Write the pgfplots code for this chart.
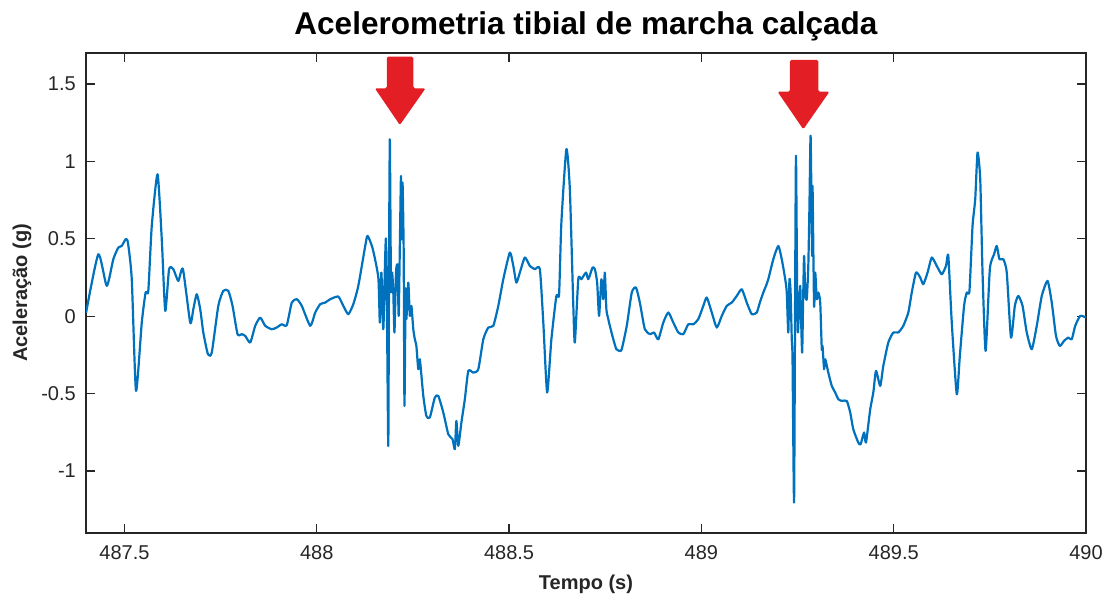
\documentclass[border=0pt]{standalone}
\usepackage{fontspec}
\setmainfont{Liberation Sans}
\usepackage{pgfplots}
\pgfplotsset{compat=1.18}
\usepackage{pgfplotstable}

\definecolor{signalblue}{RGB}{0,114,189}
\definecolor{axisgray}{RGB}{38,38,38}
\definecolor{markred}{RGB}{228,30,37}

% tibial acceleration (g) against time (s)
\pgfplotstableread{
t a
487.400 0.020
487.432 0.400
487.454 0.196
487.471 0.368
487.484 0.443
487.493 0.454
487.503 0.497
487.509 0.476
487.519 0.239
487.530 -0.482
487.545 -0.041
487.555 0.153
487.562 0.164
487.571 0.583
487.586 0.917
487.597 0.497
487.606 0.034
487.616 0.304
487.627 0.304
487.640 0.228
487.652 0.304
487.671 -0.041
487.679 0.045
487.688 0.142
487.697 0.045
487.705 -0.105
487.717 -0.245
487.727 -0.235
487.744 0.067
487.757 0.164
487.770 0.164
487.781 0.067
487.794 -0.116
487.805 -0.116
487.814 -0.127
487.827 -0.170
487.840 -0.062
487.853 -0.009
487.866 -0.062
487.883 -0.084
487.896 -0.073
487.909 -0.052
487.922 -0.058
487.935 0.088
487.948 0.110
487.961 0.067
487.983 -0.062
487.996 0.024
488.009 0.078
488.022 0.088
488.035 0.110
488.056 0.127
488.069 0.067
488.082 0.013
488.095 0.078
488.108 0.196
488.126 0.454
488.132 0.519
488.145 0.440
488.160 0.250
488.164 -0.041
488.168 0.282
488.173 -0.084
488.177 0.304
488.180 0.497
488.183 -0.105
488.186 -0.837
488.188 0.390
488.190 1.143
488.193 0.174
488.196 0.282
488.199 0.153
488.202 -0.105
488.206 0.282
488.210 0.325
488.213 0.002
488.216 0.454
488.219 0.906
488.221 0.497
488.223 0.863
488.226 0.411
488.228 -0.579
488.231 0.174
488.233 -0.019
488.238 0.217
488.242 0.002
488.246 0.067
488.251 -0.084
488.255 -0.149
488.259 -0.192
488.264 -0.342
488.268 -0.278
488.277 -0.515
488.285 -0.644
488.294 -0.654
488.307 -0.525
488.316 -0.515
488.329 -0.622
488.342 -0.762
488.353 -0.794
488.359 -0.859
488.363 -0.676
488.368 -0.837
488.376 -0.687
488.385 -0.536
488.394 -0.353
488.407 -0.364
488.420 -0.342
488.433 -0.149
488.446 -0.073
488.459 -0.062
488.472 0.067
488.485 0.239
488.502 0.411
488.511 0.325
488.519 0.217
488.528 0.282
488.541 0.379
488.554 0.325
488.567 0.304
488.580 0.304
488.589 -0.041
488.599 -0.493
488.610 -0.149
488.623 0.131
488.630 0.142
488.636 0.605
488.649 1.079
488.658 0.820
488.667 0.067
488.671 -0.170
488.680 0.239
488.688 0.239
488.700 0.282
488.706 0.239
488.717 0.314
488.723 0.304
488.729 0.217
488.734 0.002
488.740 0.239
488.745 0.110
488.749 0.282
488.753 0.045
488.758 -0.019
488.762 -0.062
488.771 -0.149
488.779 -0.213
488.788 -0.224
488.793 -0.213
488.806 -0.062
488.819 0.153
488.830 0.185
488.840 0.088
488.853 -0.084
488.867 -0.116
488.877 -0.105
488.888 -0.149
488.901 -0.041
488.914 0.024
488.927 -0.041
488.940 -0.105
488.953 -0.116
488.966 -0.052
488.979 -0.052
488.992 -0.019
489.005 0.067
489.014 0.121
489.027 0.024
489.040 -0.073
489.053 0.002
489.066 0.067
489.079 0.088
489.092 0.131
489.105 0.174
489.118 0.088
489.131 0.013
489.144 0.024
489.152 0.088
489.161 0.153
489.168 0.196
489.174 0.239
489.187 0.368
489.200 0.454
489.209 0.368
489.218 0.239
489.222 0.153
489.226 -0.105
489.229 0.239
489.232 0.153
489.235 -0.149
489.237 -0.278
489.241 -1.203
489.244 0.282
489.246 1.036
489.249 0.153
489.251 -0.105
489.254 0.067
489.257 0.196
489.259 0.002
489.262 -0.235
489.264 0.024
489.267 0.390
489.270 0.153
489.274 0.110
489.278 0.325
489.281 0.713
489.284 1.165
489.288 0.390
489.289 0.842
489.293 0.067
489.296 0.282
489.300 0.110
489.304 0.153
489.309 0.088
489.313 -0.213
489.315 -0.192
489.319 -0.342
489.322 -0.278
489.330 -0.364
489.339 -0.450
489.348 -0.493
489.356 -0.536
489.365 -0.547
489.378 -0.547
489.387 -0.622
489.395 -0.730
489.408 -0.816
489.414 -0.827
489.423 -0.751
489.428 -0.816
489.439 -0.601
489.447 -0.493
489.454 -0.353
489.465 -0.450
489.473 -0.321
489.486 -0.170
489.499 -0.105
489.512 -0.105
489.525 -0.062
489.538 0.024
489.547 0.153
489.558 0.282
489.569 0.250
489.577 0.207
489.588 0.282
489.599 0.379
489.612 0.325
489.625 0.271
489.636 0.325
489.642 0.390
489.651 -0.041
489.664 -0.504
489.672 -0.256
489.683 0.067
489.690 0.153
489.697 0.164
489.705 0.583
489.712 0.756
489.718 1.057
489.725 0.885
489.731 0.282
489.739 -0.224
489.750 0.304
489.761 0.400
489.768 0.454
489.775 0.368
489.785 0.368
489.794 0.282
489.805 -0.138
489.815 0.067
489.824 0.131
489.835 0.067
489.846 -0.105
489.859 -0.213
489.872 -0.062
489.885 0.131
489.900 0.228
489.911 0.088
489.922 -0.127
489.932 -0.192
489.943 -0.159
489.954 -0.138
489.963 -0.149
489.972 -0.062
489.985 0.002
490.000 -0.009
}\accel

\begin{document}
\begin{tikzpicture}
\begin{axis}[
  scale only axis,
  width=1000pt, height=480pt,
  xmin=487.4, xmax=490,
  ymin=-1.4, ymax=1.7,
  xtick={487.5,488,488.5,489,489.5,490},
  xticklabels={487.5,488,488.5,489,489.5,490},
  ytick={-1,-0.5,0,0.5,1,1.5},
  yticklabels={-1,-0.5,0,0.5,1,1.5},
  tick align=inside,
  major tick length=9pt,
  axis line style={axisgray, line width=1.2pt},
  every tick/.style={axisgray, line width=1.2pt},
  ticklabel style={font=\fontsize{20}{24}\selectfont, text=axisgray},
  xticklabel style={anchor=base, yshift=-27pt},
  yticklabel style={anchor=east, inner sep=0pt, xshift=-10pt},
  title={Acelerometria tibial de marcha calçada},
  title style={font=\fontsize{31.5}{36}\selectfont\bfseries, at={(axis description cs:0.5,1)}, anchor=base, yshift=12pt},
  xlabel={Tempo (s)},
  xlabel style={font=\fontsize{20}{24}\selectfont\bfseries, text=axisgray, at={(axis description cs:0.5,0)}, anchor=base, yshift=-57pt},
  ylabel={Aceleração (g)},
  ylabel style={font=\fontsize{20}{24}\selectfont\bfseries, text=axisgray, at={(axis description cs:-0.064,0.5)}, anchor=center, rotate=0},
]
\addplot[signalblue, line width=2.2pt, line join=round, smooth, tension=0.35, mark=none] table[x=t, y=a] {\accel};

% red arrows pointing at the heel-strike impacts
\fill[markred, rounded corners=1.5pt]
  (axis cs:488.182,1.676) -- (axis cs:488.251,1.676) -- (axis cs:488.251,1.472)
  -- (axis cs:488.283,1.472) -- (axis cs:488.216,1.235) -- (axis cs:488.151,1.472)
  -- (axis cs:488.182,1.472) -- cycle;
\fill[markred, rounded corners=1.5pt]
  (axis cs:489.230,1.655) -- (axis cs:489.304,1.655) -- (axis cs:489.304,1.450)
  -- (axis cs:489.333,1.450) -- (axis cs:489.265,1.207) -- (axis cs:489.198,1.450)
  -- (axis cs:489.230,1.450) -- cycle;
\end{axis}
\pgfresetboundingbox
\path (-86pt,-63pt) rectangle (1019pt,533pt);
\end{tikzpicture}
\end{document}
